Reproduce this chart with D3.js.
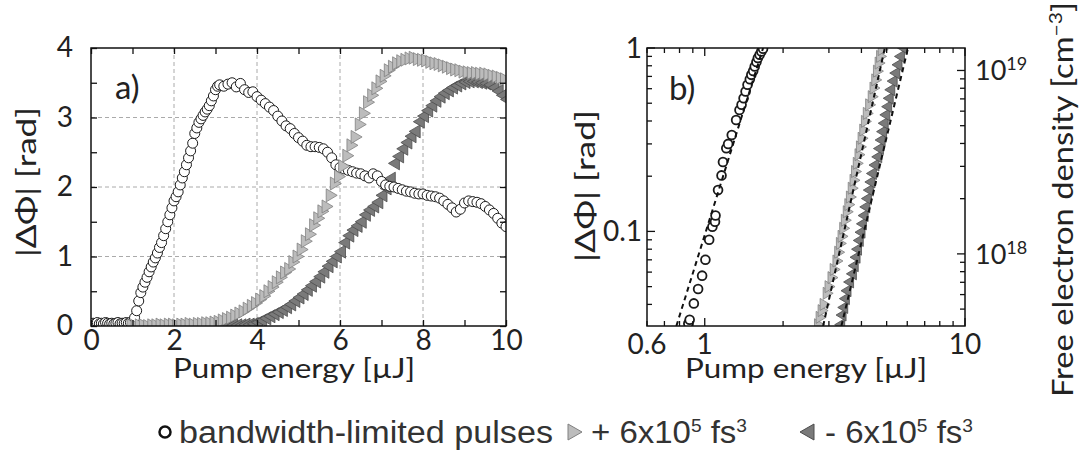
<!DOCTYPE html>
<html>
<head>
<meta charset="utf-8">
<title>Phase shift vs pump energy</title>
<script src="https://cdnjs.cloudflare.com/ajax/libs/d3/7.8.5/d3.min.js"></script>
<style>
body { margin: 0; background: #fff; }
text { font-family: Lato, "Open Sans", sans-serif; fill: #222; }
.leg { font-family: "Liberation Sans", Arial, sans-serif; fill: #333; }
</style>
</head>
<body>
<div id="chart"></div>
<script>
// ---- panel a) data: [pump energy (uJ), |dPhi| (rad)] ----
var bwLinear = [
  [0.05,0.04],[0.1,0.03],[0.15,0.05],[0.2,0.03],[0.25,0.04],[0.3,0.03],[0.35,0.05],[0.4,0.04],
  [0.45,0.03],[0.5,0.04],[0.55,0.03],[0.6,0.04],[0.65,0.05],[0.7,0.03],[0.75,0.04],[0.8,0.04],
  [0.85,0.05],[0.9,0.04],[0.95,0.05],[1.0,0.05],[1.05,0.12],[1.1,0.22],[1.15,0.36],[1.2,0.48],
  [1.25,0.56],[1.3,0.63],[1.35,0.70],[1.4,0.78],[1.45,0.85],[1.5,0.92],[1.55,0.98],[1.6,1.05],
  [1.65,1.13],[1.7,1.20],[1.75,1.30],[1.8,1.40],[1.85,1.50],[1.9,1.60],[1.95,1.70],[2.0,1.80],
  [2.05,1.86],[2.1,1.93],[2.15,2.03],[2.2,2.13],[2.25,2.22],[2.3,2.32],[2.35,2.42],[2.4,2.52],
  [2.45,2.63],[2.5,2.77],[2.55,2.85],[2.6,2.93],[2.65,2.98],[2.7,3.03],[2.75,3.08],[2.8,3.12],
  [2.85,3.17],[2.9,3.24],[2.95,3.31],[3.0,3.40],[3.05,3.45],[3.1,3.47],[3.2,3.45],[3.3,3.48],
  [3.4,3.50],[3.5,3.44],[3.6,3.49],[3.7,3.40],[3.8,3.36],[3.9,3.37],[4.0,3.30],[4.1,3.25],
  [4.2,3.20],[4.3,3.15],[4.4,3.10],[4.5,3.02],[4.6,2.95],[4.7,2.88],[4.8,2.84],[4.9,2.77],
  [5.0,2.71],[5.1,2.66],[5.2,2.60],[5.3,2.58],[5.4,2.58],[5.5,2.57],[5.6,2.55],[5.7,2.50],
  [5.8,2.42],[5.9,2.32],[6.0,2.28],[6.1,2.26],[6.2,2.24],[6.3,2.22],[6.4,2.20],[6.5,2.19],
  [6.6,2.16],[6.7,2.13],[6.8,2.19],[6.9,2.16],[7.0,2.08],[7.1,2.03],[7.2,2.01],[7.3,2.00],
  [7.4,1.98],[7.5,1.96],[7.6,1.94],[7.7,1.93],[7.8,1.91],[7.9,1.90],[8.0,1.90],[8.1,1.88],
  [8.2,1.87],[8.3,1.86],[8.4,1.84],[8.5,1.80],[8.6,1.75],[8.7,1.70],[8.8,1.64],[8.9,1.68],
  [9.0,1.77],[9.1,1.80],[9.2,1.79],[9.3,1.78],[9.4,1.76],[9.5,1.72],[9.6,1.67],[9.7,1.62],
  [9.8,1.55],[9.9,1.48],[10.0,1.43]
];
var posLinear = [
  [1.0,0.01],[1.1,0.00],[1.2,0.01],[1.3,0.01],[1.4,0.00],[1.5,0.01],[1.6,0.01],[1.7,0.02],
  [1.8,0.01],[1.9,0.02],[2.0,0.02],[2.1,0.01],[2.2,0.02],[2.3,0.02],[2.4,0.03],[2.5,0.02],
  [2.6,0.03],[2.7,0.03],[2.8,0.04],[2.9,0.04],[3.0,0.05],[3.1,0.06],[3.2,0.08],[3.3,0.10],
  [3.4,0.12],[3.5,0.15],[3.6,0.18],[3.7,0.21],[3.8,0.25],[3.9,0.29],[4.0,0.33],[4.1,0.38],
  [4.2,0.43],[4.3,0.50],[4.4,0.56],[4.5,0.63],[4.6,0.70],[4.7,0.77],[4.8,0.82],[4.9,0.92],
  [5.0,1.00],[5.1,1.10],[5.2,1.22],[5.3,1.32],[5.4,1.45],[5.5,1.55],[5.6,1.65],[5.7,1.72],
  [5.8,1.88],[5.9,2.05],[6.0,2.15],[6.1,2.30],[6.2,2.45],[6.3,2.60],[6.4,2.72],[6.5,2.90],
  [6.6,3.06],[6.7,3.22],[6.8,3.32],[6.9,3.42],[7.0,3.52],[7.1,3.60],[7.2,3.68],[7.3,3.73],
  [7.4,3.78],[7.5,3.81],[7.6,3.83],[7.7,3.85],[7.8,3.86],[7.9,3.84],[8.0,3.83],[8.1,3.82],
  [8.2,3.80],[8.3,3.78],[8.4,3.77],[8.5,3.75],[8.6,3.73],[8.7,3.71],[8.8,3.69],[8.9,3.68],
  [9.0,3.66],[9.1,3.65],[9.2,3.64],[9.3,3.64],[9.4,3.63],[9.5,3.63],[9.6,3.62],[9.7,3.60],
  [9.8,3.59],[9.9,3.57],[10.0,3.55]
];
var negLinear = [
  [3.0,0.00],[3.1,0.01],[3.2,0.00],[3.3,0.01],[3.4,0.01],[3.5,0.01],[3.6,0.01],[3.7,0.02],
  [3.8,0.02],[3.9,0.03],[4.0,0.05],[4.1,0.08],[4.2,0.11],[4.3,0.14],[4.4,0.17],[4.5,0.20],
  [4.6,0.23],[4.7,0.27],[4.8,0.31],[4.9,0.36],[5.0,0.41],[5.1,0.46],[5.2,0.52],[5.3,0.58],
  [5.4,0.64],[5.5,0.71],[5.6,0.78],[5.7,0.86],[5.8,0.93],[5.9,1.00],[6.0,1.07],[6.1,1.20],
  [6.2,1.30],[6.3,1.38],[6.4,1.44],[6.5,1.50],[6.6,1.60],[6.7,1.67],[6.8,1.72],[6.9,1.78],
  [7.0,1.88],[7.1,1.98],[7.2,2.12],[7.3,2.34],[7.4,2.44],[7.5,2.55],[7.6,2.64],[7.7,2.73],
  [7.8,2.80],[7.9,2.94],[8.0,3.02],[8.1,3.10],[8.2,3.17],[8.3,3.24],[8.4,3.30],[8.5,3.35],
  [8.6,3.39],[8.7,3.43],[8.8,3.46],[8.9,3.49],[9.0,3.51],[9.1,3.52],[9.2,3.52],[9.3,3.51],
  [9.4,3.50],[9.5,3.49],[9.6,3.47],[9.7,3.43],[9.8,3.38],[9.9,3.32],[10.0,3.26]
];

// ---- panel b) data (log-log) ----
var bwLog = [
  [0.865,0.0315],[0.875,0.033],[0.908,0.0405],[0.943,0.0485],[0.977,0.0574],[1.006,0.070],
  [1.04,0.090],[1.07,0.106],[1.095,0.113],[1.10,0.122],[1.125,0.168],[1.16,0.202],[1.175,0.239],
  [1.21,0.284],[1.23,0.30],[1.27,0.335],[1.32,0.405],[1.36,0.459],[1.385,0.49],[1.41,0.532],
  [1.435,0.58],[1.46,0.63],[1.49,0.675],[1.51,0.714],[1.535,0.75],[1.556,0.793],[1.58,0.84],
  [1.60,0.882],[1.625,0.92],[1.65,0.958],[1.675,0.99]
];
var posLog = [
  [2.76,0.031],[2.80,0.034],[2.85,0.037],[2.90,0.040],[2.98,0.046],[3.03,0.050],[3.11,0.056],
  [3.17,0.062],[3.25,0.069],[3.30,0.077],[3.35,0.086],[3.40,0.094],[3.45,0.104],[3.50,0.115],
  [3.56,0.128],[3.61,0.140],[3.66,0.154],[3.72,0.172],[3.78,0.190],[3.83,0.212],[3.89,0.235],
  [3.95,0.262],[4.00,0.289],[4.06,0.322],[4.12,0.357],[4.18,0.398],[4.25,0.440],[4.34,0.490],
  [4.44,0.543],[4.51,0.605],[4.58,0.670],[4.65,0.748],[4.72,0.828],[4.78,0.90],[4.85,0.98]
];
var negLog = [
  [3.30,0.031],[3.34,0.035],[3.39,0.0385],[3.44,0.043],[3.49,0.0475],[3.57,0.053],[3.66,0.0587],
  [3.72,0.065],[3.78,0.0723],[3.83,0.080],[3.89,0.0893],[3.95,0.099],[4.00,0.110],[4.06,0.122],
  [4.12,0.136],[4.18,0.151],[4.25,0.168],[4.31,0.186],[4.37,0.207],[4.47,0.230],[4.58,0.255],
  [4.65,0.283],[4.72,0.315],[4.78,0.350],[4.85,0.389],[4.92,0.432],[5.00,0.479],[5.07,0.532],
  [5.14,0.592],[5.25,0.66],[5.37,0.73],[5.48,0.81],[5.60,0.90],[5.75,1.0]
];
// power-law fits (dashed), endpoints
var fitBw  = [[0.778,0.0305],[1.676,1]];
var fitPos = [[2.85,0.0305],[4.92,1]];
var fitNeg = [[3.35,0.0305],[6.04,1]];

var densityPerRad = 1.326e19;   // right axis: cm^-3 per rad

var xTicksA = [0,2,4,6,8,10];
var yTicksA = [0,1,2,3,4];

var W = 1085, H = 450;
var svg = d3.select("#chart").append("svg")
    .attr("width", W).attr("height", H)
    .style("background", "#fff");

function triPath(dir, w, h) {
    // dir 1 = pointing right, -1 = pointing left
    return "M" + (-dir * w / 2) + "," + (-h / 2) + "L" + (dir * w / 2) + ",0L" + (-dir * w / 2) + "," + (h / 2) + "Z";
}

var lightTri = { fill: "#bcbcbc", stroke: "#808080" };
var darkTri  = { fill: "#7a7a7a", stroke: "#4c4c4c" };

function drawMarkers(g, data, x, y, kind, size) {
    var sel = g.append("g").selectAll("path").data(data).enter();
    if (kind === "circle") {
        sel.append("circle")
            .attr("cx", function(d) { return x(d[0]); })
            .attr("cy", function(d) { return y(d[1]); })
            .attr("r", size.r)
            .attr("fill", "#fff")
            .attr("stroke", "#1a1a1a")
            .attr("stroke-width", size.sw);
    } else {
        var st = kind === "pos" ? lightTri : darkTri;
        sel.append("path")
            .attr("d", triPath(kind === "pos" ? 1 : -1, size.w, size.h))
            .attr("transform", function(d) { return "translate(" + x(d[0]) + "," + y(d[1]) + ")"; })
            .attr("fill", st.fill)
            .attr("stroke", st.stroke)
            .attr("stroke-width", 0.8);
    }
}

function styleAxis(g) {
    g.select(".domain").remove();
    g.selectAll(".tick line").attr("stroke", "#111").attr("stroke-width", 1.3);
    g.selectAll(".tick text").style("font-size", "28px").attr("fill", "#222");
}

// ================= panel a =================
var x0A = 91, x1A = 506, yTop = 48, yBot = 326;
var xA = d3.scaleLinear().domain([0, 10]).range([x0A, x1A]);
var yA = d3.scaleLinear().domain([0, 4]).range([yBot, yTop]);

var gA = svg.append("g");
gA.append("clipPath").attr("id", "clipA").append("rect")
    .attr("x", x0A).attr("y", yTop).attr("width", x1A - x0A).attr("height", yBot - yTop);

// grid
gA.append("g").selectAll("line").data([2, 4, 6, 8]).enter().append("line")
    .attr("x1", xA).attr("x2", xA).attr("y1", yTop).attr("y2", yBot)
    .attr("stroke", "#aaa").attr("stroke-dasharray", "4,3");
gA.append("g").selectAll("line").data([1, 2, 3]).enter().append("line")
    .attr("y1", yA).attr("y2", yA).attr("x1", x0A).attr("x2", x1A)
    .attr("stroke", "#aaa").attr("stroke-dasharray", "4,3");

var plotA = gA.append("g").attr("clip-path", "url(#clipA)");
drawMarkers(plotA, negLinear, xA, yA, "neg", { w: 11, h: 13 });
drawMarkers(plotA, bwLinear, xA, yA, "circle", { r: 5, sw: 1 });
drawMarkers(plotA, posLinear, xA, yA, "pos", { w: 11, h: 13 });

gA.append("g").attr("transform", "translate(0," + yBot + ")")
    .call(d3.axisBottom(xA).tickValues(d3.range(0, 11, 1)).tickSizeInner(-6).tickSizeOuter(0).tickPadding(4)
        .tickFormat(function(d) { return xTicksA.indexOf(d) >= 0 ? d : ""; }))
    .call(styleAxis);
gA.append("g").attr("transform", "translate(0," + yTop + ")")
    .call(d3.axisTop(xA).tickValues(d3.range(0, 11, 1)).tickSizeInner(-6).tickSizeOuter(0).tickFormat(""))
    .call(styleAxis);
gA.append("g").attr("transform", "translate(" + x0A + ",0)")
    .call(d3.axisLeft(yA).tickValues(d3.range(0, 4.01, 0.5)).tickSizeInner(-6).tickSizeOuter(0).tickPadding(18)
        .tickFormat(function(d) { return yTicksA.indexOf(d) >= 0 ? d : ""; }))
    .call(styleAxis);
gA.append("g").attr("transform", "translate(" + x1A + ",0)")
    .call(d3.axisRight(yA).tickValues(d3.range(0, 4.01, 0.5)).tickSizeInner(-6).tickSizeOuter(0).tickFormat(""))
    .call(styleAxis);
gA.append("rect").attr("x", x0A).attr("y", yTop).attr("width", x1A - x0A).attr("height", yBot - yTop)
    .attr("fill", "none").attr("stroke", "#111").attr("stroke-width", 1.5);

gA.append("text").attr("x", 115).attr("y", 99).style("font-size", "33px").attr("fill", "#333").text("a)");
gA.append("text").attr("x", 173).attr("y", 378)
    .attr("textLength", 242).attr("lengthAdjust", "spacingAndGlyphs")
    .style("font-size", "27px").text("Pump energy [\u00b5J]");
gA.append("text").attr("transform", "translate(36,257) rotate(-90)")
    .attr("textLength", 150).attr("lengthAdjust", "spacingAndGlyphs")
    .style("font-size", "27px").text("|\u0394\u03a6| [rad]");

// ================= panel b =================
var x0B = 647, x1B = 965;
var xB = d3.scaleLog().domain([0.6, 10]).range([x0B, x1B]);
var yB = d3.scaleLog().domain([0.0305, 1]).range([yBot, yTop]);
var yD = d3.scaleLog().domain([0.0305 * densityPerRad, densityPerRad]).range([yBot, yTop]);

var gB = svg.append("g");
gB.append("clipPath").attr("id", "clipB").append("rect")
    .attr("x", x0B).attr("y", yTop).attr("width", x1B - x0B).attr("height", yBot - yTop);
var plotB = gB.append("g").attr("clip-path", "url(#clipB)");

drawMarkers(plotB, posLog, xB, yB, "pos", { w: 10, h: 12 });
drawMarkers(plotB, negLog, xB, yB, "neg", { w: 10, h: 12 });
drawMarkers(plotB, bwLog, xB, yB, "circle", { r: 4.4, sw: 1.8 });

var fitLine = d3.line().x(function(d) { return xB(d[0]); }).y(function(d) { return yB(d[1]); });
[fitBw, fitPos, fitNeg].forEach(function(f) {
    plotB.append("path").attr("d", fitLine(f)).attr("fill", "none")
        .attr("stroke", "#111").attr("stroke-width", 2).attr("stroke-dasharray", "5,4");
});

var xTicksB = [0.6, 0.7, 0.8, 0.9, 1, 2, 3, 4, 5, 6, 7, 8, 9, 10];
var xLabB = [0.6, 1, 10];
var yTicksB = [0.04, 0.05, 0.06, 0.07, 0.08, 0.09, 0.1, 0.2, 0.3, 0.4, 0.5, 0.6, 0.7, 0.8, 0.9, 1];
var yLabB = [0.1, 1];
var dTicks = [5e17, 6e17, 7e17, 8e17, 9e17, 1e18, 2e18, 3e18, 4e18, 5e18, 6e18, 7e18, 8e18, 9e18, 1e19];

function isMajor(v) { return Math.abs(Math.log10(v) - Math.round(Math.log10(v))) < 1e-6; }

function logTicks(g, scale, vals, orient, pos) {
    g.append("g").selectAll("line").data(vals).enter().append("line")
        .each(function(d) {
            var len = isMajor(d) ? 8 : 5;
            var p = scale(d), s = d3.select(this);
            if (orient === "bottom") s.attr("x1", p).attr("x2", p).attr("y1", pos).attr("y2", pos - len);
            if (orient === "top") s.attr("x1", p).attr("x2", p).attr("y1", pos).attr("y2", pos + len);
            if (orient === "left") s.attr("y1", p).attr("y2", p).attr("x1", pos).attr("x2", pos + len);
            if (orient === "right") s.attr("y1", p).attr("y2", p).attr("x1", pos).attr("x2", pos - len);
        })
        .attr("stroke", "#111").attr("stroke-width", 1.3);
}
logTicks(gB, xB, xTicksB, "bottom", yBot);
logTicks(gB, xB, xTicksB, "top", yTop);
logTicks(gB, yB, yTicksB, "left", x0B);
logTicks(gB, yD, dTicks, "right", x1B);

gB.append("rect").attr("x", x0B).attr("y", yTop).attr("width", x1B - x0B).attr("height", yBot - yTop)
    .attr("fill", "none").attr("stroke", "#111").attr("stroke-width", 1.5);

gB.append("g").selectAll("text").data(xLabB).enter().append("text")
    .attr("x", function(d) { return xB(d); }).attr("y", 354).attr("text-anchor", "middle")
    .style("font-size", "28px").text(function(d) { return d; });
gB.append("g").selectAll("text").data(yLabB).enter().append("text")
    .attr("x", x0B - 5).attr("y", function(d) { return yB(d) + 10; }).attr("text-anchor", "end")
    .style("font-size", "28px").text(function(d) { return d; });

var dLab = gB.append("g").selectAll("text").data([1e18, 1e19]).enter().append("text")
    .attr("x", x1B + 10).attr("y", function(d) { return yD(d) + 10; })
    .style("font-size", "27px");
dLab.append("tspan").text("10");
dLab.append("tspan").attr("dy", -10).style("font-size", "18px")
    .text(function(d) { return Math.round(Math.log10(d)); });

gB.append("text").attr("x", 669).attr("y", 100).style("font-size", "33px").attr("fill", "#333").text("b)");
gB.append("text").attr("x", 685).attr("y", 378)
    .attr("textLength", 242).attr("lengthAdjust", "spacingAndGlyphs")
    .style("font-size", "27px").text("Pump energy [\u00b5J]");
gB.append("text").attr("transform", "translate(595,262) rotate(-90)")
    .attr("textLength", 152).attr("lengthAdjust", "spacingAndGlyphs")
    .style("font-size", "27px").text("|\u0394\u03a6| [rad]");
var dt = gB.append("text").attr("transform", "translate(1073,397) rotate(-90)")
    .attr("textLength", 395).attr("lengthAdjust", "spacingAndGlyphs")
    .style("font-size", "28px");
dt.append("tspan").text("Free electron density [cm");
dt.append("tspan").attr("dy", -11).style("font-size", "18px").text("\u22123");
dt.append("tspan").attr("dy", 11).text("]");

// ================= legend =================
var leg = svg.append("g");
var ly = 432;
leg.append("circle").attr("cx", 165).attr("cy", ly).attr("r", 5.5)
    .attr("fill", "#fff").attr("stroke", "#111").attr("stroke-width", 2.5);
leg.append("text").attr("class", "leg").attr("x", 179).attr("y", ly + 11).style("font-size", "31px")
    .attr("textLength", 374).attr("lengthAdjust", "spacingAndGlyphs")
    .text("bandwidth-limited pulses");
leg.append("path").attr("d", triPath(1, 14, 16)).attr("transform", "translate(575," + ly + ")")
    .attr("fill", lightTri.fill).attr("stroke", lightTri.stroke);
leg.append("path").attr("d", triPath(-1, 14, 16)).attr("transform", "translate(807," + ly + ")")
    .attr("fill", darkTri.fill).attr("stroke", darkTri.stroke);

function chirpLabel(x, sign, len) {
    var t = leg.append("text").attr("class", "leg").attr("x", x).attr("y", ly + 11).style("font-size", "31px")
        .attr("textLength", len).attr("lengthAdjust", "spacingAndGlyphs");
    t.append("tspan").text(sign + " 6x10");
    t.append("tspan").attr("dy", -11).style("font-size", "18px").text("5");
    t.append("tspan").attr("dy", 11).text(" fs");
    t.append("tspan").attr("dy", -11).style("font-size", "18px").text("3");
}
chirpLabel(591, "+", 156);
chirpLabel(825, "-", 148);
</script>
</body>
</html>
